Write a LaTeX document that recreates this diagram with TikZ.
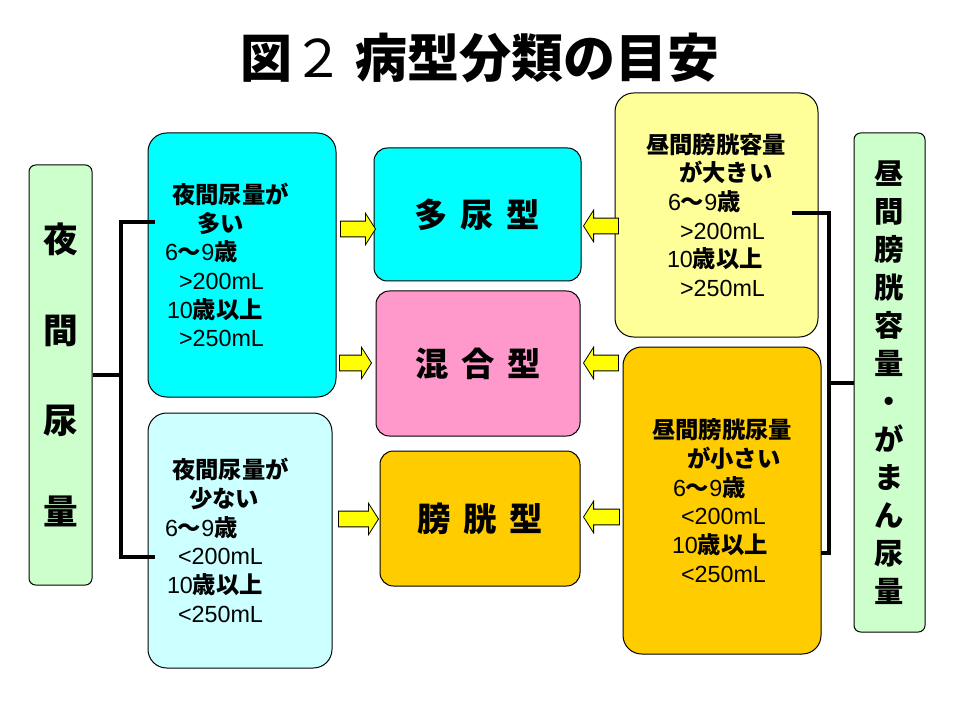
\documentclass[tikz,border=0pt]{standalone}
\usepackage{fontspec}
\setmainfont{Noto Sans CJK JP}
\newfontfamily\arialfont{Liberation Sans}
\usetikzlibrary{shapes.arrows}
\definecolor{palegreen}{HTML}{CCFFCC}
\definecolor{brightcyan}{HTML}{00FFFF}
\definecolor{lightcyan}{HTML}{CCFFFF}
\definecolor{lightyellow}{HTML}{FFFF99}
\definecolor{amber}{HTML}{FFCC00}
\definecolor{rosepink}{HTML}{FF99CC}
\definecolor{arrowyellow}{HTML}{FFFF00}
\newcommand{\lat}[1]{{\arialfont\mdseries #1}}
\newcommand{\tgap}{\hspace{9.5pt}}
\tikzstyle{sidebox}=[draw,line width=0.75pt,rounded corners=5pt,fill=palegreen,align=center,inner sep=0pt]
\tikzstyle{infobox}=[draw,line width=0.75pt,rounded corners=14pt,align=left,inner ysep=0pt,font=\bfseries\fontsize{17.5pt}{21.5pt}\selectfont]
\tikzstyle{typebox}=[draw,line width=0.75pt,rounded corners=10pt,font=\bfseries\fontsize{25pt}{30pt}\selectfont]
\tikzstyle{blockarrow}=[single arrow,draw,line width=0.6pt,fill=arrowyellow,inner xsep=0pt,inner ysep=5.6pt,single arrow head extend=6pt,single arrow tip angle=115]
\tikzstyle{bracket}=[draw,line width=3pt]
\begin{document}
\begin{tikzpicture}[x=0.75pt,y=-0.75pt]

    \fill[white] (0,0) rectangle (960,720);
    \useasboundingbox (0,0) rectangle (960,720);

    \node[font=\bfseries\fontsize{39pt}{44pt}\selectfont] (title) at (480,58) {図{\mdseries ２}\hspace{8pt}病型分類の目安};

    % side labels
    \node[sidebox,minimum width=47.25pt,minimum height=315pt,font=\bfseries\fontsize{26pt}{68pt}\selectfont] (yakan) at (60.5,375) {夜\\間\\尿\\量};
    \node[sidebox,minimum width=53.25pt,minimum height=374.25pt,font=\bfseries\fontsize{22pt}{28.5pt}\selectfont] (hiru) at (889.5,382.5) {昼\\間\\膀\\胱\\容\\量\\・\\が\\ま\\ん\\尿\\量};

    % condition boxes
    \node[infobox,fill=brightcyan,minimum height=198pt,inner xsep=12.75pt,text width=115.5pt] (tanyo) at (242,265) {%
        \hspace*{5.25pt}夜間尿量が\\
        \hspace*{24pt}多い\\
        \lat{6}〜\lat{9}歳\\
        \hspace*{10.5pt}\lat{>200mL}\\
        \hspace*{1.5pt}\lat{10}歳以上\\
        \hspace*{10.5pt}\lat{>250mL}};
    \node[infobox,fill=lightcyan,minimum height=191.25pt,inner xsep=12.75pt,text width=112.5pt] (shoyo) at (240,540.5) {%
        \hspace*{5.25pt}夜間尿量が\\
        \hspace*{18pt}少ない\\
        \lat{6}〜\lat{9}歳\\
        \hspace*{9.75pt}\lat{<200mL}\\
        \hspace*{1.5pt}\lat{10}歳以上\\
        \hspace*{9.75pt}\lat{<250mL}};
    \node[infobox,fill=lightyellow,minimum height=183pt,inner xsep=23.25pt,text width=105.75pt] (daiyoryo) at (716.5,215) {%
        昼間膀胱容量\\
        \hspace*{24.75pt}が大きい\\
        \hspace*{16.5pt}\lat{6}〜\lat{9}歳\\
        \hspace*{25.5pt}\lat{>200mL}\\
        \hspace*{15.75pt}\lat{10}歳以上\\
        \hspace*{25.5pt}\lat{>250mL}};
    \node[infobox,fill=amber,minimum height=230.25pt,inner xsep=21.75pt,text width=105pt] (shoyoryo) at (722,500.5) {%
        昼間膀胱尿量\\
        \hspace*{26.25pt}が小さい\\
        \hspace*{15.75pt}\lat{6}〜\lat{9}歳\\
        \hspace*{21.75pt}\lat{<200mL}\\
        \hspace*{15pt}\lat{10}歳以上\\
        \hspace*{21.75pt}\lat{<250mL}};

    % types
    \node[typebox,fill=brightcyan,minimum width=155.25pt,minimum height=99.75pt] (tanyogata) at (477.5,214.5) {多\tgap 尿\tgap 型};
    \node[typebox,fill=rosepink,minimum width=153pt,minimum height=108.75pt] (kongogata) at (478,363.5) {混\tgap 合\tgap 型};
    \node[typebox,fill=amber,minimum width=150pt,minimum height=101.25pt] (boukougata) at (480,518.5) {膀\tgap 胱\tgap 型};

    % block arrows
    \foreach \pos/\name/\len/\rot in {(355.5,229)/la1/35/0, (353,363)/la2/32/0, (356,519)/la3/40/0, (603.5,226)/ra1/35/180, (603.5,363)/ra2/35/180, (604,517)/ra3/36/180}
        \node[blockarrow,minimum height=\len*0.75pt,shape border rotate=\rot] (\name) at \pos {};

    % brackets
    \coordinate (ltop) at (155,222);
    \coordinate (lbot) at (155,557);
    \draw[bracket] (yakan.east) -- ++(28,0) coordinate (lj);
    \draw[bracket] (ltop) -| (lj) |- (lbot);

    \coordinate (rtop) at (792,213);
    \coordinate (rbot) at (821,553);
    \draw[bracket] (hiru.west) -- ++(-25,0) coordinate (rj);
    \draw[bracket] (rtop) -| (rj) |- (rbot);

\end{tikzpicture}
\end{document}
